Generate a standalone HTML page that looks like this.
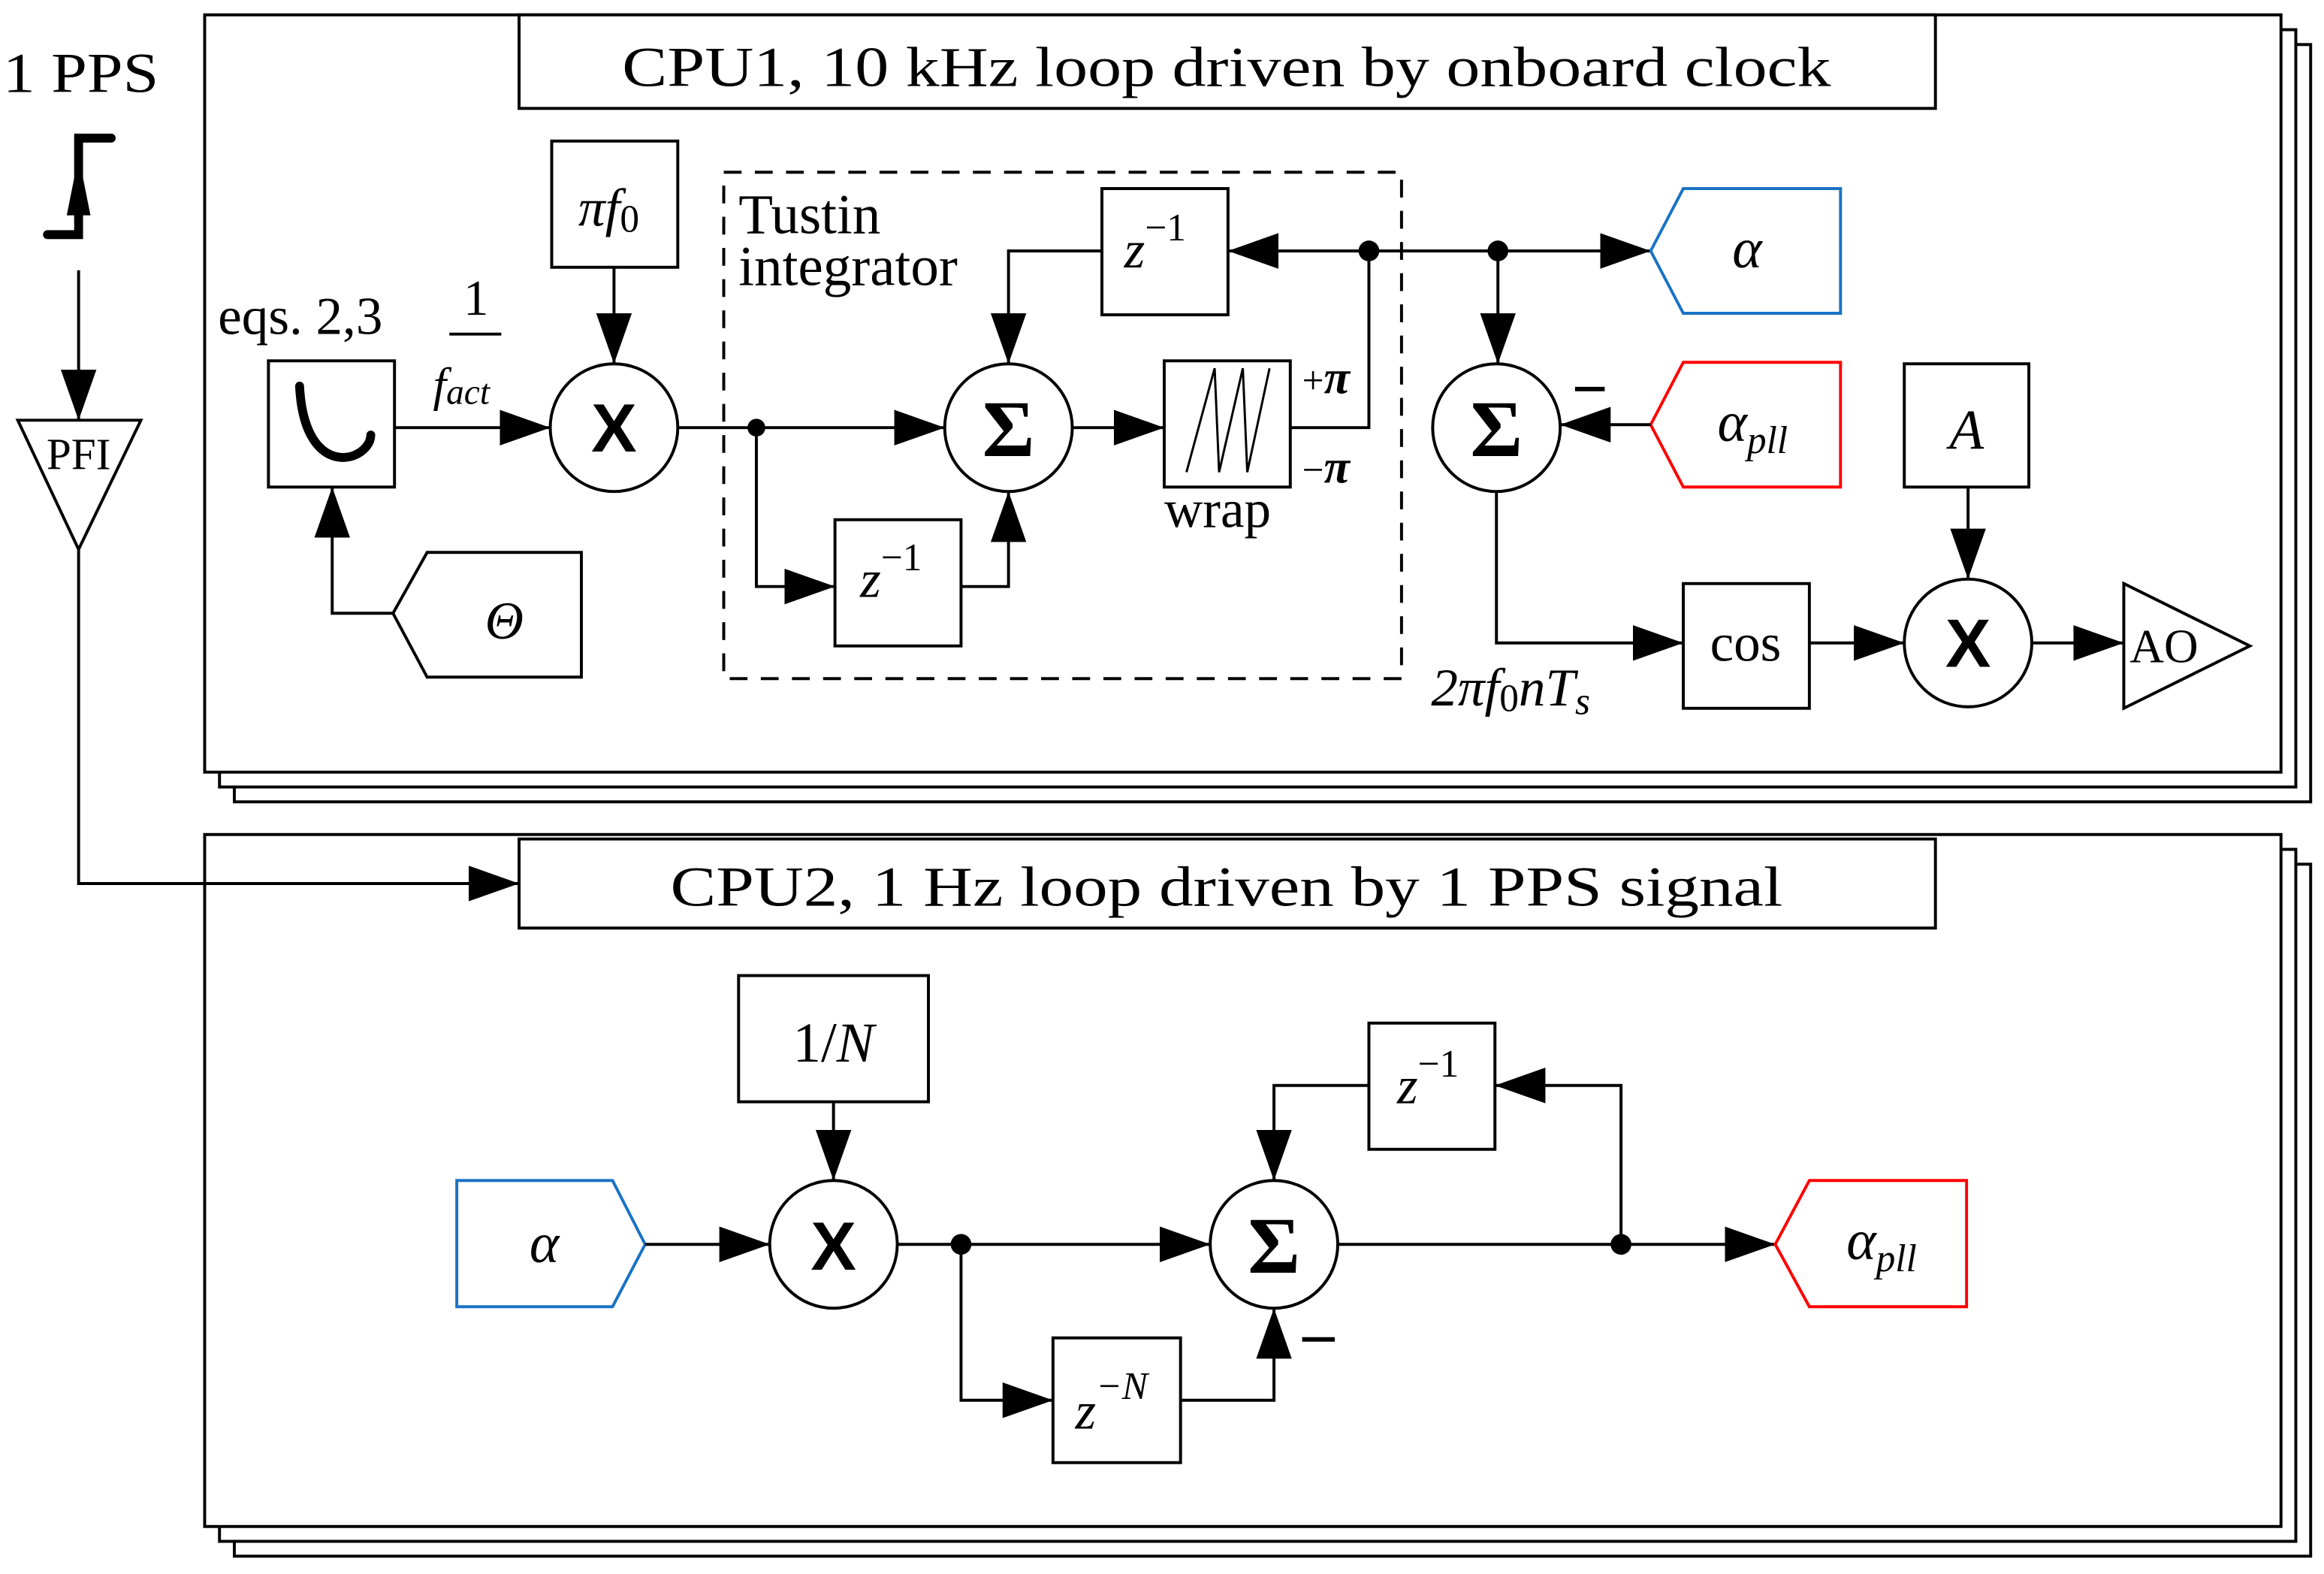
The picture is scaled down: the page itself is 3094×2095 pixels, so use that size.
<!DOCTYPE html>
<html><head><meta charset="utf-8"><style>
html,body{margin:0;padding:0;background:#fff}
svg{display:block}
text{font-family:"Liberation Serif",serif;fill:#000}
.i{font-style:italic}
.s{font-family:"Liberation Sans",sans-serif;font-weight:bold}
.g{font-weight:bold}
</style></head><body>
<svg width="3094" height="2095" viewBox="0 0 1567 1060" preserveAspectRatio="none" xmlns="http://www.w3.org/2000/svg">
<defs>
<marker id="a" markerUnits="userSpaceOnUse" markerWidth="36" markerHeight="26" refX="34" refY="12" orient="auto">
<path d="M0,0 L34,12 L0,24 Z" fill="#000"/>
</marker>
</defs>
<g fill="#fff" stroke="#000" stroke-width="2">
<rect x="158" y="30" width="1400" height="510"/>
<rect x="148" y="20" width="1400" height="510"/>
<rect x="138" y="10" width="1400" height="510"/>
<rect x="350" y="10" width="955" height="63"/>
<rect x="158" y="582" width="1400" height="466"/>
<rect x="148" y="572" width="1400" height="466"/>
<rect x="138" y="562" width="1400" height="466"/>
<rect x="350" y="565" width="955" height="60"/>
</g>
<text x="827" y="58" font-size="38" text-anchor="middle" textLength="815" lengthAdjust="spacingAndGlyphs">CPU1,  10 kHz loop driven by onboard clock</text>
<text x="827" y="610" font-size="38" text-anchor="middle" textLength="750" lengthAdjust="spacingAndGlyphs">CPU2,  1 Hz loop  driven by 1 PPS signal</text>

<text x="2" y="62" font-size="38" textLength="105" lengthAdjust="spacingAndGlyphs">1 PPS</text>
<path d="M75,93 H53 V158 H32" fill="none" stroke="#000" stroke-width="6" stroke-linecap="round"/>
<path d="M45,145 L53,105 L61,145 Z" fill="#000"/>
<g fill="none" stroke="#000" stroke-width="2">
<line x1="53" y1="182" x2="53" y2="283" marker-end="url(#a)"/>
<polygon points="12,283 95,283 53,370" fill="#fff"/>
<polyline points="53,370 53,595 350,595" marker-end="url(#a)"/>
</g>
<text x="53" y="316" font-size="30" text-anchor="middle">PFI</text>

<g fill="none" stroke="#000" stroke-width="2">
<rect x="181" y="243" width="85" height="85" fill="#fff"/>
<rect x="372" y="95" width="85" height="85"/>
<circle cx="414" cy="288" r="43"/>
<line x1="266" y1="288" x2="371" y2="288" marker-end="url(#a)"/>
<line x1="414" y1="180" x2="414" y2="245" marker-end="url(#a)"/>
<polygon points="265,413 288,372 392,372 392,456 288,456"/>
<polyline points="265,413 224,413 224,328" marker-end="url(#a)"/>
<rect x="488" y="116" width="457" height="341" stroke-dasharray="12,9"/>
<line x1="457" y1="288" x2="637" y2="288" marker-end="url(#a)"/>
<polyline points="510,288 510,395 563,395" marker-end="url(#a)"/>
<rect x="563" y="350" width="85" height="85"/>
<polyline points="648,395 680,395 680,331" marker-end="url(#a)"/>
<circle cx="680" cy="288" r="43"/>
<line x1="723" y1="288" x2="785" y2="288" marker-end="url(#a)"/>
<rect x="785" y="243" width="85" height="85"/>
<polyline points="870,288 923,288 923,169 828,169" marker-end="url(#a)"/>
<rect x="743" y="127" width="85" height="85"/>
<polyline points="743,169 680,169 680,245" marker-end="url(#a)"/>
<line x1="923" y1="169" x2="1113" y2="169" marker-end="url(#a)"/>
<line x1="1010" y1="169" x2="1010" y2="245" marker-end="url(#a)"/>
<circle cx="1009" cy="288" r="43"/>
<polygon points="1113,169 1135,127 1241,127 1241,211 1135,211" stroke="#1a73c4"/>
<polygon points="1113,286 1135,244 1241,244 1241,328 1135,328" stroke="#f00"/>
<line x1="1113" y1="286" x2="1052" y2="286" marker-end="url(#a)"/>
<polyline points="1009,331 1009,433 1135,433" marker-end="url(#a)"/>
<rect x="1135" y="393" width="85" height="84"/>
<line x1="1220" y1="433" x2="1284" y2="433" marker-end="url(#a)"/>
<circle cx="1327" cy="433" r="43"/>
<rect x="1284" y="245" width="84" height="83"/>
<line x1="1327" y1="328" x2="1327" y2="390" marker-end="url(#a)"/>
<line x1="1370" y1="433" x2="1432" y2="433" marker-end="url(#a)"/>
<polygon points="1432,393 1432,477 1517,435"/>
<polyline points="800,318 819,248 822,318 838,248 841,318 856,248" stroke-width="1.5"/>
<path d="M202,260 C204,300 222,312 238,307 C246,304 250,298 250,293" stroke-width="6" stroke-linecap="round"/>
<line x1="303" y1="225" x2="338" y2="225"/>
<line x1="1062" y1="262" x2="1082" y2="262" stroke-width="3"/>
</g>
<circle cx="510" cy="288" r="6"/>
<circle cx="923" cy="169" r="7"/>
<circle cx="1010" cy="169" r="7"/>
<text x="147" y="225" font-size="36">eqs. 2,3</text>
<text x="321" y="212" font-size="34" text-anchor="middle">1</text>
<text x="292" y="270" font-size="32" class="i">f<tspan font-size="24" dy="2">act</tspan></text>
<text x="390" y="152" font-size="36" class="i">πf<tspan font-size="26" font-style="normal" dy="4">0</tspan></text>
<text x="340" y="430" font-size="36" class="i" text-anchor="middle">Θ</text>
<text x="498" y="157" font-size="38">Tustin</text>
<text x="498" y="192" font-size="38">integrator</text>
<text x="785" y="355" font-size="36">wrap</text>
<text x="878" y="265" font-size="26">+<tspan font-size="32" font-weight="bold" font-style="italic">π</tspan></text>
<text x="878" y="325" font-size="26">−<tspan font-size="32" font-weight="bold" font-style="italic">π</tspan></text>
<text x="758" y="180" font-size="36" class="i">z<tspan font-style="normal" font-size="26" dy="-18">−1</tspan></text>
<text x="580" y="402" font-size="36" class="i">z<tspan font-style="normal" font-size="26" dy="-18">−1</tspan></text>
<text x="680" y="307" font-size="54" class="g" text-anchor="middle">Σ</text>
<text x="1009" y="307" font-size="54" class="g" text-anchor="middle">Σ</text>
<text x="414" y="304" font-size="46" class="s" text-anchor="middle">X</text>
<text x="1327" y="449" font-size="46" class="s" text-anchor="middle">X</text>
<text x="1178" y="180" font-size="38" class="i" text-anchor="middle">α</text>
<text x="1158" y="297" font-size="38" class="i">α<tspan font-size="26" dy="8">pll</tspan></text>
<text x="1326" y="302" font-size="38" class="i" text-anchor="middle">A</text>
<text x="1177" y="445" font-size="36" text-anchor="middle">cos</text>
<text x="1436" y="446" font-size="32">AO</text>
<text x="965" y="475" font-size="36" class="i">2πf<tspan font-style="normal" font-size="26" dy="4">0</tspan><tspan dy="-4">nT</tspan><tspan font-size="26" dy="6">s</tspan></text>

<g fill="none" stroke="#000" stroke-width="2">
<rect x="498" y="657" width="128" height="85"/>
<line x1="562" y1="742" x2="562" y2="795" marker-end="url(#a)"/>
<circle cx="562" cy="838" r="43"/>
<polygon points="308,795 413,795 435,838 413,880 308,880" stroke="#1a73c4"/>
<line x1="435" y1="838" x2="519" y2="838" marker-end="url(#a)"/>
<line x1="605" y1="838" x2="816" y2="838" marker-end="url(#a)"/>
<polyline points="648,838 648,943 710,943" marker-end="url(#a)"/>
<rect x="710" y="901" width="86" height="84"/>
<polyline points="796,943 859,943 859,881" marker-end="url(#a)"/>
<circle cx="859" cy="838" r="43"/>
<line x1="902" y1="838" x2="1197" y2="838" marker-end="url(#a)"/>
<polyline points="1093,838 1093,731 1008,731" marker-end="url(#a)"/>
<rect x="923" y="689" width="85" height="85"/>
<polyline points="923,731 859,731 859,795" marker-end="url(#a)"/>
<polygon points="1197,838 1220,795 1326,795 1326,880 1220,880" stroke="#f00"/>
<line x1="878" y1="902" x2="900" y2="902" stroke-width="3"/>
</g>
<circle cx="648" cy="838" r="7"/>
<circle cx="1093" cy="838" r="7"/>
<text x="562" y="715" font-size="38" text-anchor="middle">1/<tspan class="i">N</tspan></text>
<text x="367" y="850" font-size="38" class="i" text-anchor="middle">α</text>
<text x="562" y="855" font-size="46" class="s" text-anchor="middle">X</text>
<text x="859" y="857" font-size="54" class="g" text-anchor="middle">Σ</text>
<text x="942" y="743" font-size="36" class="i">z<tspan font-style="normal" font-size="26" dy="-18">−1</tspan></text>
<text x="725" y="962" font-size="36" class="i">z<tspan font-size="26" dy="-20">−N</tspan></text>
<text x="1245" y="848" font-size="38" class="i">α<tspan font-size="26" dy="8">pll</tspan></text>
</svg>
</body></html>
